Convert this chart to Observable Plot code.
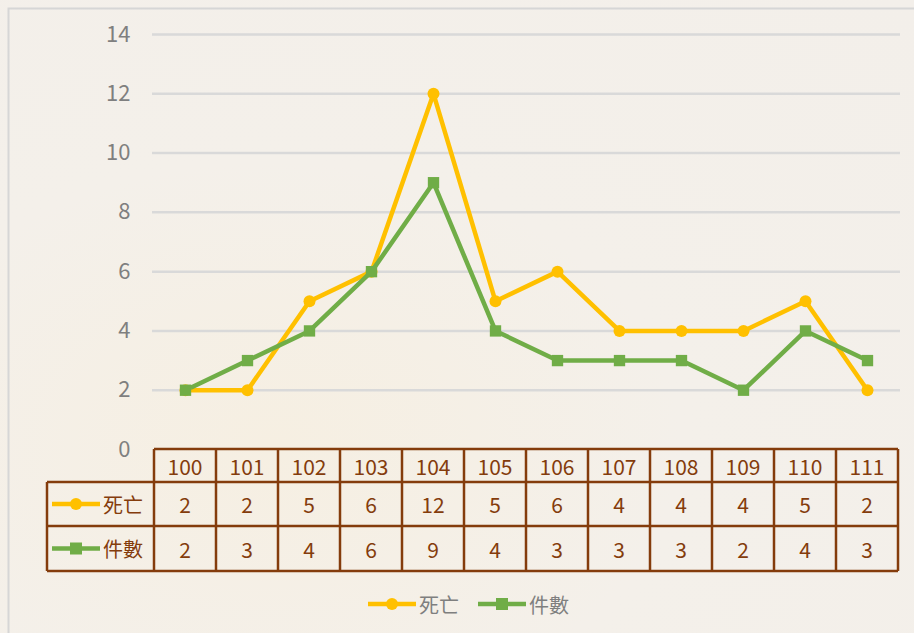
<!DOCTYPE html>
<html>
<head>
<meta charset="utf-8">
<script src="https://cdn.jsdelivr.net/npm/d3@7"></script>
<script src="https://cdn.jsdelivr.net/npm/@observablehq/plot@0.6"></script>
<style>
  html, body { margin: 0; padding: 0; }
  body { width: 914px; height: 633px; overflow: hidden;
         background: radial-gradient(ellipse at 30% 70%, #f6efe2 0%, #f4f0ea 45%, #f3efea 100%); }
  #chart { position: relative; width: 914px; height: 633px; }
  svg { font-family: "Noto Sans CJK TC", "Noto Sans", sans-serif; }
</style>
</head>
<body>
<div id="chart"></div>
<script>
const years = ["100","101","102","103","104","105","106","107","108","109","110","111"];
const deaths = [2, 2, 5, 6, 12, 5, 6, 4, 4, 4, 5, 2];
const cases = [2, 3, 4, 6, 9, 4, 3, 3, 3, 2, 4, 3];
const seriesNames = ["死亡", "件數"];
const seriesColors = ["#FFC000", "#70AD47"];
const yTicks = [0, 2, 4, 6, 8, 10, 12, 14];

const deathRows = years.map((y, i) => ({year: y, value: deaths[i], series: seriesNames[0]}));
const caseRows = years.map((y, i) => ({year: y, value: cases[i], series: seriesNames[1]}));

const brown = "#843C0C";
const chart = Plot.plot({
  width: 914,
  height: 633,
  marginTop: 34,
  marginBottom: 184,
  marginLeft: 152,
  marginRight: 14,
  style: {background: "transparent", fontFamily: "'Noto Sans CJK TC', 'Noto Sans', sans-serif", fontSize: "20px", overflow: "visible"},
  x: {type: "band", domain: years, padding: 0, axis: null},
  y: {domain: [0, 14], ticks: yTicks, tickSize: 0, tickPadding: 22, label: null, tickFormat: d => String(d)},
  marks: [
    Plot.ruleY(yTicks.filter(d => d > 0), {stroke: "#d9d9d9", strokeWidth: 2.5}),
    Plot.line(deathRows, {x: "year", y: "value", stroke: seriesColors[0], strokeWidth: 4.5}),
    Plot.line(caseRows, {x: "year", y: "value", stroke: seriesColors[1], strokeWidth: 4.5}),
    Plot.dot(deathRows, {x: "year", y: "value", r: 6, fill: seriesColors[0], symbol: "circle"}),
    Plot.dot(caseRows, {x: "year", y: "value", r: 6.4, fill: seriesColors[1], symbol: "square"})
  ]
});

// y tick label colour and size
d3.select(chart).selectAll("g[aria-label='y-axis tick label']").attr("fill", "#7f7f7f");
d3.select(chart).selectAll("g[aria-label='y-axis tick label'] text")
  .style("font-size", "22px").attr("fill", "#7f7f7f");

const xs = chart.scale("x");
const ys = chart.scale("y");
const bw = xs.bandwidth;
const left = 47;
const x0 = xs.apply(years[0]);
const x1 = xs.apply(years[years.length - 1]) + bw;
const rowTop = ys.apply(0);
const rowB = [rowTop, rowTop + 33, rowTop + 77, rowTop + 122];

const svg = d3.select(chart);
svg.insert("rect", ":first-child")
  .attr("x", 8.5).attr("y", 8.5).attr("width", 930).attr("height", 640)
  .attr("fill", "none").attr("stroke", "#d6d6d6").attr("stroke-width", 2);

const tbl = svg.append("g").attr("stroke", brown).attr("stroke-width", 2.5).attr("fill", "none");
tbl.append("line").attr("x1", x0).attr("x2", x1).attr("y1", rowB[0]).attr("y2", rowB[0]);
for (let k = 1; k < 4; k++) tbl.append("line").attr("x1", left).attr("x2", x1).attr("y1", rowB[k]).attr("y2", rowB[k]);
tbl.append("line").attr("x1", left).attr("x2", left).attr("y1", rowB[1]).attr("y2", rowB[3]);
years.forEach(y => {
  const x = xs.apply(y);
  tbl.append("line").attr("x1", x).attr("x2", x).attr("y1", rowB[0]).attr("y2", rowB[3]);
});
tbl.append("line").attr("x1", x1).attr("x2", x1).attr("y1", rowB[0]).attr("y2", rowB[3]);

const txt = svg.append("g").attr("fill", brown).attr("font-size", 21).attr("text-anchor", "middle")
  .attr("dominant-baseline", "central");
const rowsVals = [years, deaths, cases];
rowsVals.forEach((vals, r) => {
  const cy = (rowB[r] + rowB[r + 1]) / 2;
  years.forEach((y, i) => {
    txt.append("text").attr("x", xs.apply(y) + bw / 2).attr("y", cy).text(vals[i]);
  });
});

function key(g, cx, cy, i, len, label, color) {
  g.append("line").attr("x1", cx).attr("x2", cx + len).attr("y1", cy).attr("y2", cy)
    .attr("stroke", seriesColors[i]).attr("stroke-width", 4.5);
  if (i === 0) g.append("circle").attr("cx", cx + len / 2).attr("cy", cy).attr("r", 6).attr("fill", seriesColors[i]);
  else g.append("rect").attr("x", cx + len / 2 - 6).attr("y", cy - 6).attr("width", 12).attr("height", 12).attr("fill", seriesColors[i]);
  g.append("text").attr("x", cx + len + 3).attr("y", cy).attr("dominant-baseline", "central")
    .attr("text-anchor", "start").attr("font-size", 20).attr("fill", color).text(label);
}
const lab = svg.append("g");
seriesNames.forEach((name, i) => {
  const cy = (rowB[i + 1] + rowB[i + 2]) / 2;
  key(lab, 52, cy, i, 48, name, brown);
});

const leg = svg.append("g");
key(leg, 368, 604, 0, 48, seriesNames[0], "#7f7f7f");
key(leg, 478, 604, 1, 48, seriesNames[1], "#7f7f7f");

document.getElementById("chart").appendChild(chart);
</script>
</body>
</html>
